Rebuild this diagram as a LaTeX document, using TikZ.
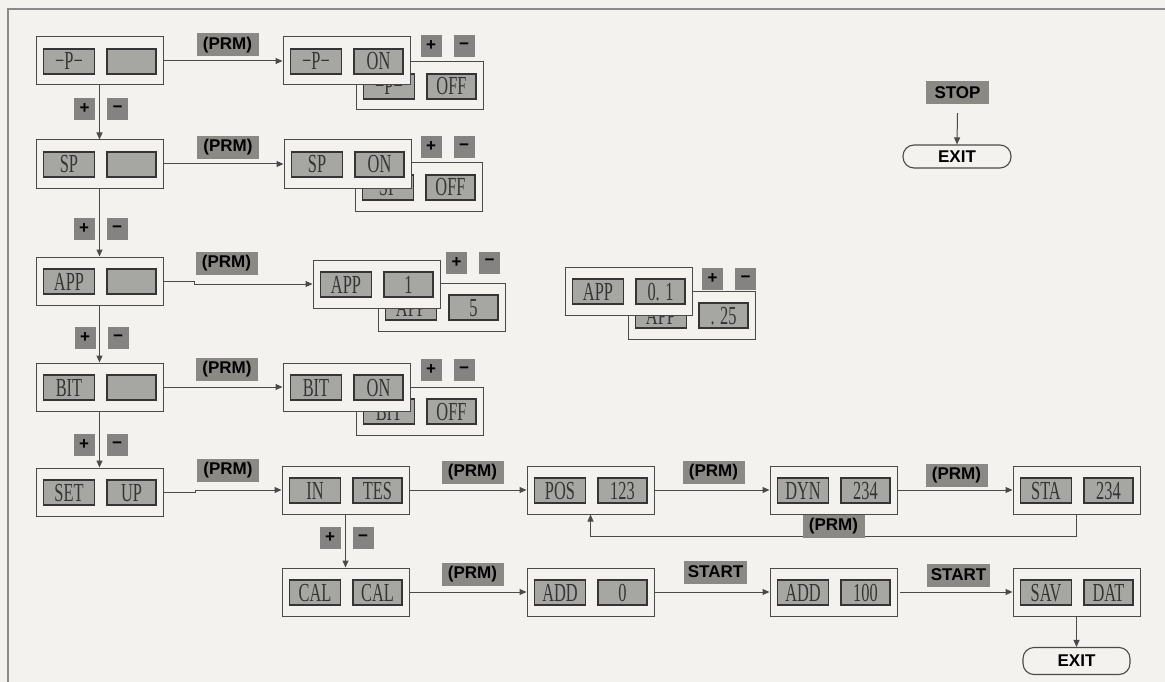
\documentclass[tikz,border=0pt]{standalone}
\usepackage{fontspec}
\usepackage{graphicx}
\setmainfont{Liberation Serif}
\newfontfamily\labfont{Liberation Sans}
\usetikzlibrary{arrows.meta}
\definecolor{bg}{HTML}{F3F2EE}
\definecolor{lcdfill}{HTML}{A6A6A2}
\definecolor{labfill}{HTML}{8B8984}
\definecolor{pmfill}{HTML}{858381}
\definecolor{ink}{HTML}{353535}
\definecolor{linec}{HTML}{4A4A4A}
\definecolor{framec}{HTML}{8A8A8A}
\tikzset{
 outerbox/.style={draw=linec, line width=1pt, fill=bg, minimum width=127pt, minimum height=48pt, inner sep=0pt},
 lcd/.style={draw=ink, line width=1.1pt, fill=lcdfill, minimum height=25pt, inner sep=0pt, text=ink, text height=17pt, text depth=0pt, font=\fontsize{26}{26}\selectfont},
 lab/.style={fill=labfill, minimum width=62pt, minimum height=23pt, inner sep=0pt, text=black, font=\labfont\bfseries\fontsize{17}{17}\selectfont},
 pm/.style={fill=pmfill, minimum width=21pt, minimum height=22pt, inner sep=0pt, text=black, font=\labfont\bfseries\fontsize{17}{17}\selectfont},
 arr/.style={draw=linec, line width=1pt, -{Triangle[length=7pt,width=6pt]}},
 exitbox/.style={draw=linec, line width=1.1pt, fill=bg, rounded corners=11pt, inner sep=0pt, text=black, font=\labfont\bfseries\fontsize{17}{17}\selectfont},
}
\newcommand\lcdtext[1]{\scalebox{0.63}[1]{#1}}
\newcommand\dispbox[5]{%
 \node[outerbox] (#1) at ({#2+63.5},{#3+24}) {};
 \node[lcd, minimum width=51pt] (#1a) at ({#2+33},{#3+24.5}) {\lcdtext{#4}};
 \node[lcd, minimum width=49pt] (#1b) at ({#2+95.5},{#3+24.5}) {\lcdtext{#5}};
}
\newcommand\pmpair[3]{%
 \node[pm] (#1p) at (#2,#3) {+};
 \node[pm] (#1m) at ({#2+33},#3) {−};
}
\begin{document}
\begin{tikzpicture}[x=1pt,y=-1pt]
\fill[bg] (0,0) rectangle (1165,682);
\useasboundingbox (0,0) rectangle (1165,682);
\draw[framec, line width=1.5pt] (8,682) -- (8,9) -- (1165,9);

% column 1
\dispbox{p1}{36}{37}{−P−}{}
\dispbox{sp1}{36}{140}{SP}{}
\dispbox{app1}{36}{257}{APP}{}
\dispbox{bit1}{36}{363}{BIT}{}
\dispbox{setup}{36}{468}{SET}{UP}

% column 2 (back boxes first)
\dispbox{p2b}{356}{62}{−P−}{OFF}
\dispbox{p2}{283}{37}{−P−}{ON}
\dispbox{sp2b}{355}{163}{SP}{OFF}
\dispbox{sp2}{284}{140}{SP}{ON}
\dispbox{app2b}{378}{283}{APP}{5}
\dispbox{app2}{313}{260}{APP}{1}
\dispbox{app3b}{628}{291}{APP}{. 25}
\dispbox{app3}{565}{267}{APP}{0. 1}
\dispbox{bit2b}{356}{387}{BIT}{OFF}
\dispbox{bit2}{283}{363}{BIT}{ON}

% rows 5 and 6
\dispbox{intes}{282}{466}{IN}{TES}
\dispbox{pos}{527}{466}{POS}{123}
\dispbox{dyn}{770}{466}{DYN}{234}
\dispbox{sta}{1013}{466}{STA}{234}
\dispbox{cal}{282}{568}{CAL}{CAL}
\dispbox{addz}{527}{568}{ADD}{0}
\dispbox{addh}{770}{568}{ADD}{100}
\dispbox{sav}{1013}{568}{SAV}{DAT}

% exits and stop
\node[lab, minimum width=63pt] (stop) at (957.5,92.5) {STOP};
\node[exitbox, minimum width=108pt, minimum height=23pt] (exit1) at (957,156.5) {EXIT};
\node[exitbox, minimum width=107pt, minimum height=27pt] (exit2) at (1076.5,661) {EXIT};

% connectors
\draw[arr] (p1.east) -- (p2.west);
\draw[arr] (sp1.east) -- (sp2.west);
\draw[arr] (app1.east) -- ++(31,0) |- (app2.west);
\draw[arr] (bit1.east) -- (bit2.west);
\draw[arr] (setup.east) -- ++(32,0) |- (intes.west);
\draw[arr] (intes.east) -- (pos.west);
\draw[arr] (pos.east) -- (dyn.west);
\draw[arr] (dyn.east) -- (sta.west);
\draw[arr] (sta.south) -- ++(0,22) -| (pos.south);
\draw[arr] (cal.east) -- (addz.west);
\draw[arr] (addz.east) -- (addh.west);
\draw[arr] ([xshift=2pt]addh.east) -- (sav.west);
\draw[arr] (sav.south) -- (exit2.north);
\draw[arr] ([yshift=-9pt]stop.south) -- (exit1.north);
\draw[arr] (p1.south) -- (sp1.north);
\draw[arr] (sp1.south) -- (app1.north);
\draw[arr] (app1.south) -- (bit1.north);
\draw[arr] (bit1.south) -- (setup.north);
\draw[arr] (intes.south) -- (cal.north);

% labels
\node[lab] (l1) at (227.5,45) {(PRM)};
\node[lab] (l2) at (228,147.5) {(PRM)};
\node[lab] (l3) at (226.5,263) {(PRM)};
\node[lab] (l4) at (227,369.5) {(PRM)};
\node[lab] (l5) at (228,470) {(PRM)};
\node[lab] (l6) at (472.5,472.5) {(PRM)};
\node[lab] (l7) at (713.5,472.5) {(PRM)};
\node[lab] (l8) at (956.5,475) {(PRM)};
\node[lab] (l9) at (833.5,526.5) {(PRM)};
\node[lab] (l10) at (472.5,574) {(PRM)};
\node[lab, minimum width=63pt] (s1) at (715.5,572) {START};
\node[lab, minimum width=63pt] (s2) at (958.5,575) {START};

% plus / minus keys
\pmpair{k1}{431}{46}
\pmpair{k2}{431}{147}
\pmpair{k3}{456.5}{262.5}
\pmpair{k4}{712.5}{279}
\pmpair{k5}{431}{370}
\pmpair{v1}{84.5}{109}
\pmpair{v2}{84}{229}
\pmpair{v3}{85}{338}
\pmpair{v4}{84}{445}
\pmpair{v5}{330}{538}
\end{tikzpicture}
\end{document}
